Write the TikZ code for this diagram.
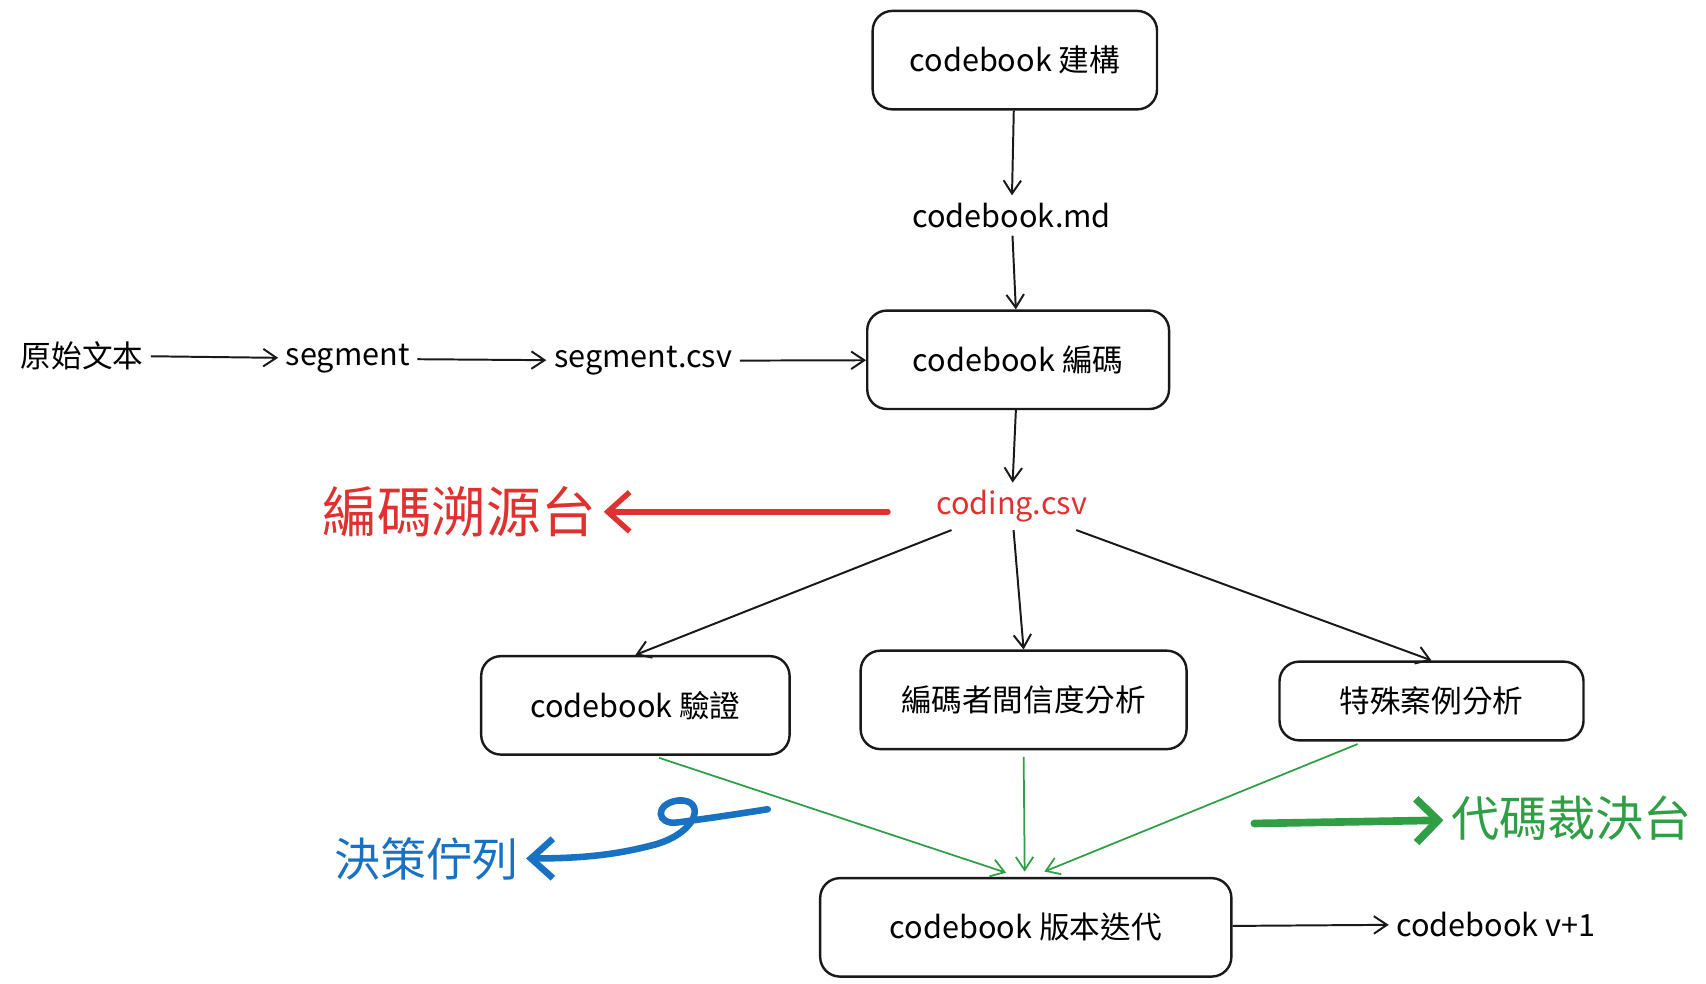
\documentclass[tikz,border=0pt]{standalone}
\usepackage{fontspec}
\setmainfont{Noto Sans CJK TC}
\usetikzlibrary{arrows.meta}
\definecolor{rd}{HTML}{E03131}
\definecolor{bl}{HTML}{1971C2}
\definecolor{gr}{HTML}{2F9E44}
\begin{document}
\begin{tikzpicture}[x=0.5pt,y=-0.5pt,
  box/.style={draw=black!90,line width=1.1pt,rounded corners=9pt,minimum height=45pt,font=\fontsize{14}{16}\selectfont},
  txt/.style={font=\fontsize{14}{16}\selectfont},
  arr/.style={-{Straight Barb[length=6pt,width=8pt]},line width=0.9pt,black!90},
  garr/.style={-{Straight Barb[length=6pt,width=8pt]},line width=0.8pt,gr,shorten <=3pt}]
\useasboundingbox (0,0) rectangle (1560,899);
\node[box,minimum width=130pt] (build) at (928,55) {codebook 建構};
\node[txt] (md) at (925,197) {codebook.md};
\node[box,minimum width=138pt] (code) at (931,329) {codebook 編碼};
\node[txt] (raw) at (75,325) {原始文本};
\node[txt] (seg) at (318,328) {segment};
\node[txt] (segcsv) at (588,330) {segment.csv};
\node[txt,text=rd] (csv) at (925,463) {coding.csv};
\node[font=\fontsize{25}{28}\selectfont,text=rd] (trace) at (420,468) {編碼溯源台};
\node[box,minimum width=141pt] (valid) at (581,645) {codebook 驗證};
\node[box,minimum width=149pt] (rel) at (936,640) {編碼者間信度分析};
\node[box,minimum width=139pt,minimum height=36pt] (spec) at (1309,641) {特殊案例分析};
\node[box,minimum width=188pt] (iter) at (938,848) {codebook 版本迭代};
\node[txt] (v1) at (1368,845) {codebook v+1};
\node[font=\fontsize{21}{24}\selectfont,text=bl] (queue) at (390,785) {決策佇列};
\node[font=\fontsize{22}{25}\selectfont,text=gr] (judge) at (1437,748) {代碼裁決台};
\draw[arr] (build) -- (md);
\draw[arr] (md) -- (code);
\draw[arr] (raw) -- (seg);
\draw[arr] (seg) -- (segcsv);
\draw[arr] (segcsv) -- (code);
\draw[arr] (code) -- (csv);
\draw[arr] (csv) -- (valid.north);
\draw[arr] (csv) -- (rel.north);
\draw[arr] (csv) -- (spec.north);
\coordinate (i1) at (920,798);
\coordinate (i2) at (937,797);
\coordinate (i3) at (955,797);
\draw[garr] ([xshift=8pt]valid.south) -- (i1);
\draw[garr] (rel.south) -- (i2);
\draw[garr] ([xshift=-31pt]spec.south) -- (i3);
\draw[arr] (iter) -- (v1);
\coordinate (rs) at (812,468);
\coordinate (gs) at (1147,753);
\draw[rd,line width=2.5pt,line cap=round,-{Straight Barb[length=10pt,width=18pt,line width=2.5pt]}] (rs) -- (trace);
\draw[gr,line width=3.5pt,line cap=round,-{Straight Barb[length=10pt,width=20pt,line width=3.5pt]}] (gs) -- (judge);
\coordinate (bs) at (702,740);
\draw[bl,line width=3pt,line cap=round,-{Straight Barb[length=10pt,width=18pt,line width=3pt]}] (bs) .. controls (670,745) and (650,748) .. (620,752) .. controls (600,755) and (598,735) .. (620,732) .. controls (645,730) and (640,760) .. (600,772) .. controls (570,780) and (540,785) .. (queue.east);
\end{tikzpicture}
\end{document}
